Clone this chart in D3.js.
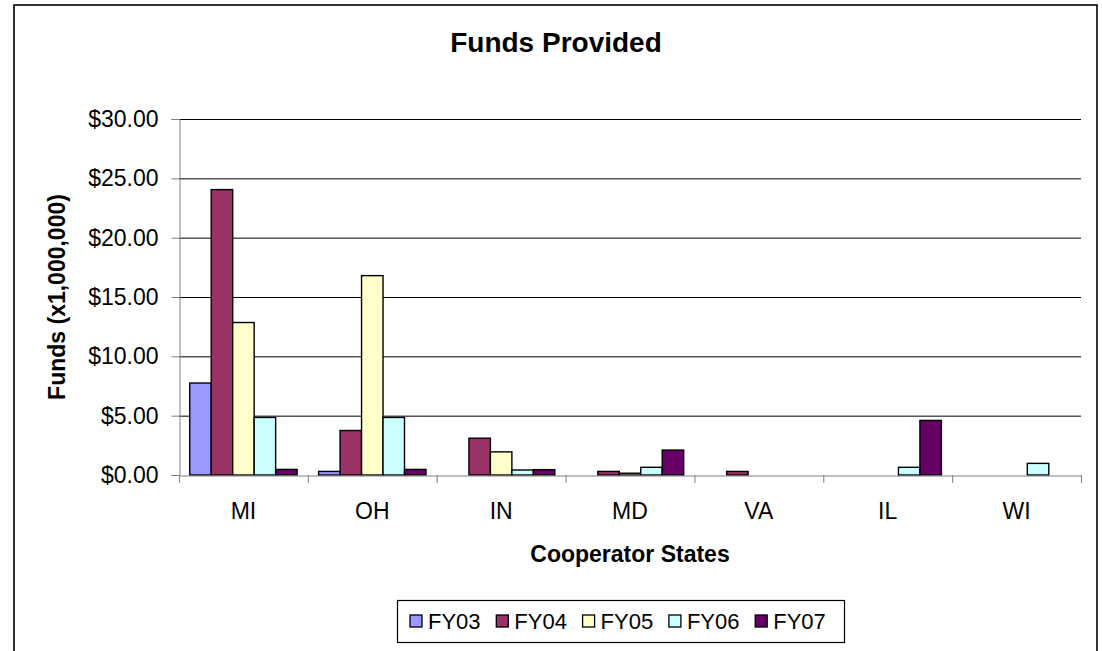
<!DOCTYPE html>
<html lang="en">
<head>
  <meta charset="utf-8">
  <title>Funds Provided</title>
  <script src="https://d3js.org/d3.v7.min.js"></script>
  <style>
    body { margin: 0; background: #fff; }
    text { font-family: "Liberation Sans", Arial, sans-serif; fill: #000; }
  </style>
</head>
<body>
<div id="chart"></div>
<script>
  // values in $ millions
  var states = ["MI", "OH", "IN", "MD", "VA", "IL", "WI"];
  var years = ["FY03", "FY04", "FY05", "FY06", "FY07"];
  var fy03 = [7.75, 0.3, 0, 0, 0, 0, 0];
  var fy04 = [24.05, 3.75, 3.1, 0.3, 0.3, 0, 0];
  var fy05 = [12.85, 16.8, 1.95, 0.15, 0, 0, 0];
  var fy06 = [4.85, 4.85, 0.42, 0.65, 0, 0.65, 0.98];
  var fy07 = [0.47, 0.47, 0.45, 2.1, 0, 4.6, 0];
  var yTicks = [0, 5, 10, 15, 20, 25, 30];
  var colors = ["#9999ff", "#993366", "#ffffcc", "#ccffff", "#660066"];

  var series = [fy03, fy04, fy05, fy06, fy07];

  var width = 1102, height = 651;
  var plot = { left: 179, right: 1081, top: 119, bottom: 475 };

  var svg = d3.select("#chart").append("svg")
    .attr("width", width)
    .attr("height", height);

  // outer chart frame (bottom runs off the page)
  svg.append("rect")
    .attr("x", 14).attr("y", 5)
    .attr("width", 1083).attr("height", 700)
    .attr("fill", "#fff")
    .attr("stroke", "#000")
    .attr("stroke-width", 1.6);

  var x0 = d3.scaleBand()
    .domain(states)
    .range([plot.left, plot.right]);

  // gap width 100% -> half a bar of space on each side of the group
  var x1 = d3.scaleBand()
    .domain(years)
    .range([0, x0.bandwidth()])
    .paddingOuter(0.5);

  var y = d3.scaleLinear()
    .domain([0, 30])
    .range([plot.bottom, plot.top]);

  // gridlines
  svg.append("g")
    .selectAll("line")
    .data(yTicks.filter(function (d) { return d > 0; }))
    .join("line")
    .attr("x1", plot.left).attr("x2", plot.right)
    .attr("y1", function (d) { return y(d) + 0.5; })
    .attr("y2", function (d) { return y(d) + 0.5; })
    .attr("stroke", "#000")
    .attr("stroke-width", 1);

  // bars
  var groups = svg.append("g")
    .selectAll("g")
    .data(series)
    .join("g")
    .attr("fill", function (d, i) { return colors[i]; });

  groups.selectAll("rect")
    .data(function (d, i) {
      return d.map(function (v, j) { return { state: states[j], year: years[i], value: v }; })
        .filter(function (o) { return o.value > 0; });
    })
    .join("rect")
    .attr("x", function (d) { return x0(d.state) + x1(d.year); })
    .attr("y", function (d) { return y(d.value); })
    .attr("width", x1.bandwidth())
    .attr("height", function (d) { return y(0) - y(d.value); })
    .attr("stroke", "#000")
    .attr("stroke-width", 1.4);

  // y axis
  var yAxis = svg.append("g")
    .attr("transform", "translate(" + (plot.left + 0.5) + ",0)")
    .call(d3.axisLeft(y)
      .tickValues(yTicks)
      .tickSize(8)
      .tickPadding(13)
      .tickFormat(function (d) { return "$" + d3.format(".2f")(d); }));
  yAxis.select(".domain").attr("stroke", "#808080");
  yAxis.selectAll(".tick line").attr("stroke", "#808080");
  yAxis.selectAll("text")
    .style("font-size", "23px")
    .style("font-family", "'Liberation Sans', Arial, sans-serif");

  // x axis: ticks sit between categories
  var xAxis = svg.append("g")
    .attr("transform", "translate(0," + (plot.bottom + 0.5) + ")")
    .call(d3.axisBottom(x0).tickSize(0).tickPadding(27));
  xAxis.select(".domain").attr("stroke", "#808080");
  xAxis.selectAll("text")
    .style("font-size", "23px")
    .style("font-family", "'Liberation Sans', Arial, sans-serif");

  svg.append("g")
    .selectAll("line")
    .data(d3.range(states.length + 1))
    .join("line")
    .attr("x1", function (i) { return plot.left + i * x0.step() + 0.5; })
    .attr("x2", function (i) { return plot.left + i * x0.step() + 0.5; })
    .attr("y1", plot.bottom)
    .attr("y2", plot.bottom + 8)
    .attr("stroke", "#808080");

  // titles
  svg.append("text")
    .attr("x", 556).attr("y", 52)
    .attr("text-anchor", "middle")
    .style("font-size", "28px")
    .style("font-weight", "bold")
    .text("Funds Provided");

  svg.append("text")
    .attr("x", (plot.left + plot.right) / 2).attr("y", 562)
    .attr("text-anchor", "middle")
    .style("font-size", "23px")
    .style("font-weight", "bold")
    .text("Cooperator States");

  svg.append("text")
    .attr("transform", "translate(65," + ((plot.top + plot.bottom) / 2) + ") rotate(-90)")
    .attr("text-anchor", "middle")
    .style("font-size", "23px")
    .style("font-weight", "bold")
    .text("Funds (x1,000,000)");

  // legend
  var legend = svg.append("g");
  legend.append("rect")
    .attr("x", 397.5).attr("y", 600.5)
    .attr("width", 447).attr("height", 42)
    .attr("fill", "#fff")
    .attr("stroke", "#000")
    .attr("stroke-width", 1.2);

  var items = legend.selectAll("g")
    .data(years)
    .join("g")
    .attr("transform", function (d, i) { return "translate(" + (410 + i * 86.3) + ",615)"; });

  items.append("rect")
    .attr("width", 12).attr("height", 12)
    .attr("fill", function (d, i) { return colors[i]; })
    .attr("stroke", "#000")
    .attr("stroke-width", 1.3);

  items.append("text")
    .attr("x", 18).attr("y", 6)
    .attr("dy", "0.35em")
    .style("font-size", "22px")
    .text(function (d) { return d; });
</script>
</body>
</html>
